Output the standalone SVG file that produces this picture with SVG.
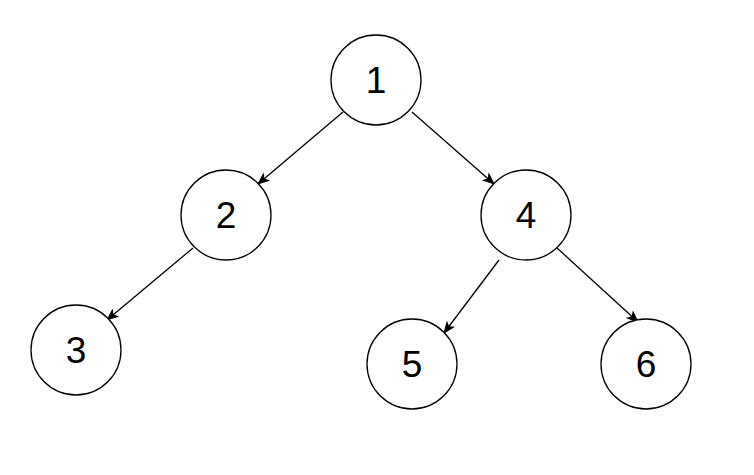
<svg xmlns="http://www.w3.org/2000/svg" width="754" height="475" viewBox="0 0 754 475">
<defs>
<style>
.node circle{fill:#fff;stroke:#000;stroke-width:1.3}
.node text{font-family:"Liberation Sans",Arial,sans-serif;font-size:37px;fill:#000;text-anchor:middle}
.edge{stroke:#000;stroke-width:1.3;fill:none;marker-end:url(#arr)}
</style>
<marker id="arr" viewBox="0 0 10 10" refX="9" refY="5" markerWidth="13" markerHeight="13" markerUnits="userSpaceOnUse" orient="auto">
<path d="M0,1 L10,5 L0,9 L2.5,5 Z" fill="#000"/>
</marker>
</defs>
<rect width="754" height="475" fill="#fff"/>
<g id="connectors">
<line class="edge" x1="343" y1="112" x2="258" y2="184"/>
<line class="edge" x1="412" y1="112" x2="494" y2="184"/>
<line class="edge" x1="193" y1="248" x2="107" y2="320"/>
<line class="edge" x1="499" y1="260" x2="444" y2="333"/>
<line class="edge" x1="557" y1="248" x2="638" y2="322"/>
</g>
<g id="n1" class="node"><circle cx="376" cy="80" r="45"/><text x="376" y="93">1</text></g>
<g id="n2" class="node"><circle cx="226" cy="215" r="45"/><text x="226" y="228">2</text></g>
<g id="n4" class="node"><circle cx="526" cy="215" r="45"/><text x="526" y="228">4</text></g>
<g id="n3" class="node"><circle cx="76" cy="350" r="45"/><text x="76" y="363">3</text></g>
<g id="n5" class="node"><circle cx="412" cy="364" r="45"/><text x="412" y="377">5</text></g>
<g id="n6" class="node"><circle cx="646" cy="364" r="45"/><text x="646" y="377">6</text></g>
</svg>
